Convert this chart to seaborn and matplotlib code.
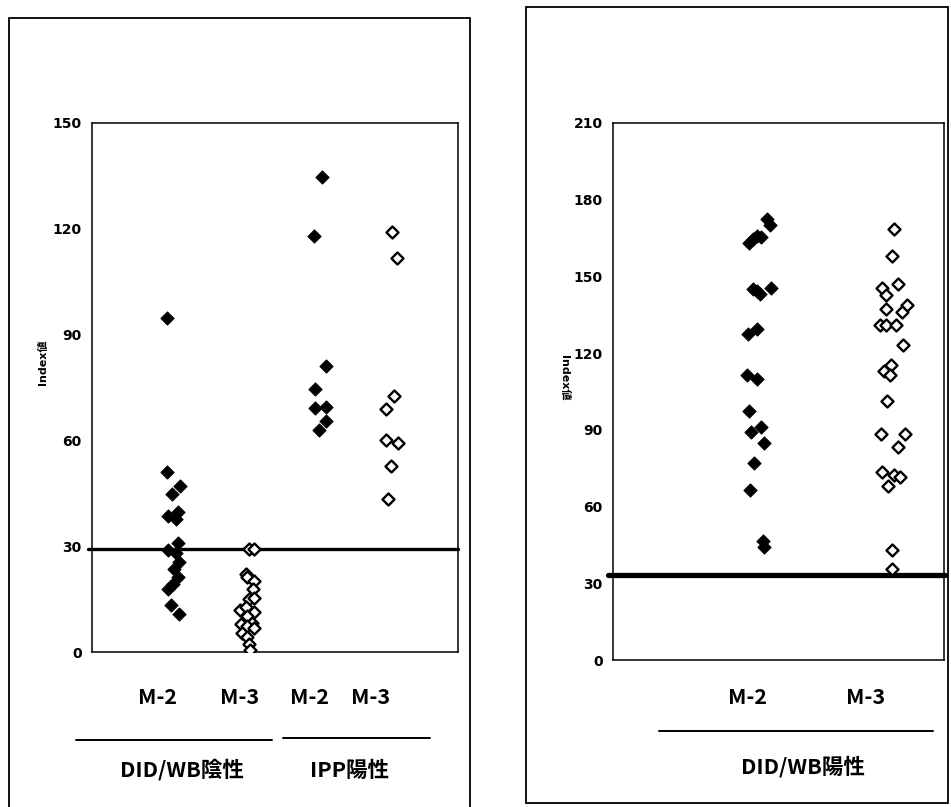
import numpy as np
import pandas as pd
import seaborn as sns
import matplotlib.pyplot as plt
from matplotlib.patches import Rectangle
from matplotlib.lines import Line2D

# ---- data (x = category slot incl. the small side offset, y = Index value)
# left chart: DID/WB negative and IPP positive
neg_m2_x = [1.03, 1.03, 1.09, 1.20, 1.04, 1.18, 1.15, 1.18, 1.04, 1.15, 1.19, 1.12, 1.18, 1.04, 1.10, 1.08, 1.19]
neg_m2_y = [94.7, 51.1, 44.7, 47.2, 38.6, 39.6, 37.6, 31.0, 29.0, 28.0, 25.5, 23.5, 21.4, 17.9, 19.4, 13.3, 10.8]

neg_m3_x = [2.15, 2.21, 2.10, 2.12, 2.21, 2.20, 2.15, 2.21, 2.02, 2.10, 2.21, 2.12, 2.03, 2.19, 2.12, 2.05, 2.21, 2.12, 2.15, 2.16]
neg_m3_y = [29.2, 29.2, 22.2, 21.4, 20.2, 17.9, 14.9, 15.4, 11.8, 12.8, 11.3, 10.3, 7.8, 8.3, 7.3, 5.3, 6.8, 4.2, 2.4, 0.5]

ipp_m2_x = [3.14, 3.03, 3.20, 3.05, 3.05, 3.20, 3.19, 3.10]
ipp_m2_y = [134.8, 118.0, 81.1, 74.5, 69.1, 69.4, 65.4, 62.9]

ipp_m3_x = [4.10, 4.17, 4.12, 4.02, 4.02, 4.18, 4.08, 4.05]
ipp_m3_y = [119.0, 111.6, 72.7, 68.9, 60.1, 59.3, 52.8, 43.4]

# right chart: DID/WB positive
pos_m2_x = [2.32, 2.37, 2.06, 2.11, 2.17, 2.23, 2.12, 2.22, 2.38, 2.17, 2.04, 2.18, 2.03, 2.17,
            2.06, 2.09, 2.24, 2.28, 2.13, 2.07, 2.27, 2.28]
pos_m2_y = [172.3, 170.1, 163.2, 164.8, 165.8, 165.3, 144.9, 143.3, 145.5, 144.3, 127.6, 129.6, 111.3, 109.7,
            97.3, 89.3, 91.3, 84.9, 77.0, 66.4, 46.5, 44.2]

pos_m3_x = [4.24, 4.21, 4.30, 4.06, 4.13, 4.13, 4.44, 4.37, 4.03, 4.12, 4.28, 4.38, 4.20, 4.10, 4.19,
            4.14, 4.05, 4.41, 4.30, 4.07, 4.24, 4.34, 4.16, 4.22, 4.22]
pos_m3_y = [168.5, 157.9, 147.2, 145.3, 142.7, 137.2, 139.0, 135.9, 131.1, 131.1, 131.1, 123.3, 115.5, 113.2, 111.5,
            101.1, 88.4, 88.4, 83.4, 73.6, 72.3, 71.4, 68.1, 43.0, 35.7]

cutoff_left = 29.3
cutoff_right = 33.2

left_yticks = [0, 30, 60, 90, 120, 150]
right_yticks = [0, 30, 60, 90, 120, 150, 180, 210]

left_cats = ['M-2', 'M-3', 'M-2', 'M-3']
left_groups = ['DID/WB陰性', 'IPP陽性']
right_cats = ['M-2', 'M-3']
right_group = 'DID/WB陽性'
ylab = 'Index値'

sns.set_style('white')
plt.rcParams['font.family'] = ['DejaVu Sans', 'Noto Sans CJK JP']
plt.rcParams['text.color'] = 'black'
plt.rcParams['ytick.color'] = 'black'
plt.rcParams['xtick.color'] = 'black'
jp = ['Noto Sans CJK JP', 'DejaVu Sans']

W, H = 951, 807
fig = plt.figure(figsize=(W / 100, H / 100), dpi=100)


def fx(px):
    return px / W


def fy(py):
    return 1 - py / H


# outer frames of the two panels
fig.patches.append(Rectangle((fx(9), fy(820)), fx(470) - fx(9), fy(18) - fy(820),
                             transform=fig.transFigure, fill=False, lw=1.3, ec='black'))
fig.patches.append(Rectangle((fx(526), fy(803)), fx(948) - fx(526), fy(7) - fy(803),
                             transform=fig.transFigure, fill=False, lw=1.3, ec='black'))

ax1 = fig.add_axes([fx(92), fy(652), fx(458) - fx(92), fy(123) - fy(652)])
ax2 = fig.add_axes([fx(613), fy(660), fx(944) - fx(613), fy(123) - fy(660)])

msize = 44


def filled(ax, xs, ys):
    sns.scatterplot(x=xs, y=ys, marker='D', s=msize, color='black', edgecolor='black',
                    linewidth=0.8, ax=ax, zorder=3, legend=False)


def hollow(ax, xs, ys):
    sns.scatterplot(x=xs, y=ys, marker='D', s=msize * 0.85, facecolor='white', edgecolor='black',
                    linewidth=1.7, ax=ax, zorder=3, legend=False)


filled(ax1, neg_m2_x, neg_m2_y)
hollow(ax1, neg_m3_x, neg_m3_y)
filled(ax1, ipp_m2_x, ipp_m2_y)
hollow(ax1, ipp_m3_x, ipp_m3_y)

filled(ax2, pos_m2_x, pos_m2_y)
hollow(ax2, pos_m3_x, pos_m3_y)

ax1.axhline(cutoff_left, xmin=-0.012, xmax=1.0, color='black', lw=2.4, zorder=2, clip_on=False)
ax2.axhline(cutoff_right, xmin=-0.015, xmax=1.003, color='black', lw=3.8, zorder=2, clip_on=False)

for ax, yt in [(ax1, left_yticks), (ax2, right_yticks)]:
    ax.set_xlim(0, 5)
    ax.set_ylim(yt[0], yt[-1])
    ax.set_yticks(yt)
    ax.set_yticklabels([str(v) for v in yt], fontsize=10, fontweight='bold', color='black')
    ax.set_xticks([1, 2, 3, 4])
    ax.set_xticklabels([])
    ax.tick_params(axis='x', direction='in', length=4, width=0.8, color='black')
    ax.tick_params(axis='y', direction='out', length=2.5, width=0.8, color='black', pad=5)
    ax.set_xlabel('')
    ax.set_ylabel('')
    for s in ax.spines.values():
        s.set_color('black')
        s.set_linewidth(1.1)
        s.set_visible(True)

# axis titles
fig.text(fx(43), fy(362), ylab, rotation=90, ha='center', va='center', fontsize=8, fontweight='bold')
fig.text(fx(564), fy(378), ylab, rotation=270, ha='center', va='center', fontsize=8, fontweight='bold')

# category labels below the charts
for lab, px in zip(left_cats, [158, 240, 310, 371]):
    fig.text(fx(px), fy(698), lab, ha='center', va='center', fontsize=15.5, family=jp, fontweight='bold')
for lab, px in zip(right_cats, [748, 866]):
    fig.text(fx(px), fy(698), lab, ha='center', va='center', fontsize=15.5, family=jp, fontweight='bold')

fig.text(fx(182), fy(770), left_groups[0], ha='center', va='center', fontsize=15.5, family=jp, fontweight='bold')
fig.text(fx(350), fy(770), left_groups[1], ha='center', va='center', fontsize=15.5, family=jp, fontweight='bold')
fig.text(fx(803), fy(767), right_group, ha='center', va='center', fontsize=15.5, family=jp, fontweight='bold')

# group underlines
for x0, x1, y in [(76, 272, 740), (283, 430, 738), (659, 933, 731)]:
    fig.add_artist(Line2D([fx(x0), fx(x1)], [fy(y), fy(y)], transform=fig.transFigure,
                          color='black', lw=1.4))

fig.savefig('out.png', dpi=100)
